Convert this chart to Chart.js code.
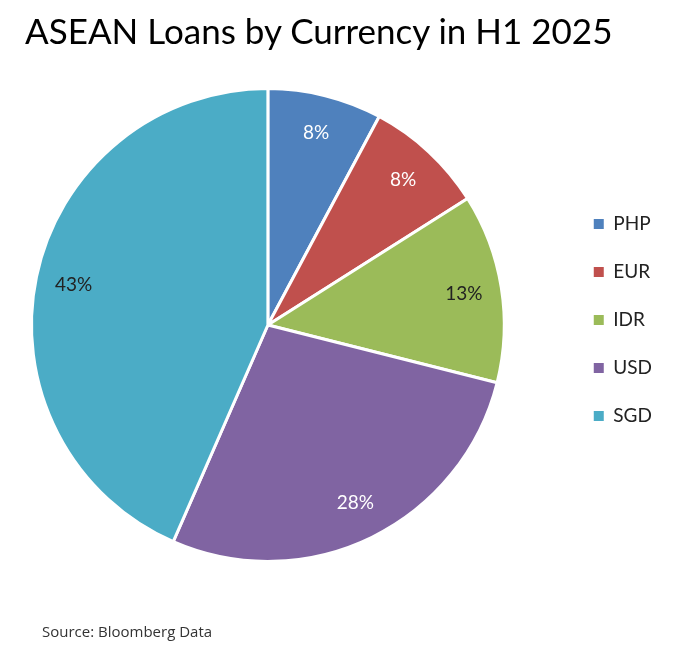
<!DOCTYPE html>
<html>
<head>
<meta charset="utf-8">
<script src="https://cdn.jsdelivr.net/npm/chart.js@4.4.1/dist/chart.umd.min.js"></script>
<style>
html, body { margin: 0; padding: 0; background: #fff; }
#wrap { position: relative; width: 697px; height: 662px; }
#wrap canvas { position: absolute; left: 0; top: 0; }
#title { position: absolute; left: 25px; top: 9px; font: 35px Lato, sans-serif; color: #000; white-space: nowrap; }
#source { position: absolute; left: 42px; top: 621px; font: 15px "Open Sans", sans-serif; color: #333; white-space: nowrap; }
</style>
</head>
<body>
<div id="wrap">
  <canvas id="loan-chart" width="697" height="662"></canvas>
  <div id="title">ASEAN Loans by Currency in H1 2025</div>
  <div id="source">Source: Bloomberg Data</div>
</div>
<script>
var currencies = ['PHP', 'EUR', 'IDR', 'USD', 'SGD'];
var shares = [7.8, 8.2, 12.9, 27.6, 43.4];
var colors = ['#4F81BD', '#C0504D', '#9BBB59', '#8064A2', '#4BACC6'];
var labelColors = ['#ffffff', '#ffffff', '#222222', '#ffffff', '#222222'];

// percent labels inside each slice
var pctLabels = {
    id: 'pctLabels',
    afterDatasetsDraw: function(chart) {
        var ctx = chart.ctx;
        var meta = chart.getDatasetMeta(0);
        ctx.save();
        ctx.font = '19px Lato';
        ctx.textAlign = 'center';
        ctx.textBaseline = 'middle';
        meta.data.forEach(function(arc, i) {
            var p = arc.getProps(['x', 'y', 'startAngle', 'endAngle', 'outerRadius']);
            var mid = (p.startAngle + p.endAngle) / 2;
            var r = p.outerRadius * 0.84;
            ctx.fillStyle = labelColors[i];
            ctx.fillText(Math.round(shares[i]) + '%', p.x + Math.cos(mid) * r, p.y + Math.sin(mid) * r);
        });
        ctx.restore();
    }
};

// push the legend away from the pie
var legendShift = {
    id: 'legendShift',
    afterLayout: function(chart) {
        var lg = chart.legend;
        lg.left += 59;
        lg.right += 59;
        lg.top -= 5;
        lg.bottom -= 5;
    }
};

var baseLabels = Chart.overrides.pie.plugins.legend.labels.generateLabels;

var ctx = document.getElementById('loan-chart').getContext('2d');
var chart = new Chart(ctx, {
    type: 'pie',
    data: {
        labels: currencies,
        datasets: [{
            data: shares,
            backgroundColor: colors,
            borderColor: '#ffffff',
            borderWidth: 3
        }]
    },
    options: {
        responsive: false,
        animation: false,
        layout: { padding: { left: 30, right: 94, top: 87, bottom: 99 } },
        plugins: {
            tooltip: { enabled: false },
            legend: {
                position: 'right',
                labels: {
                    boxWidth: 10,
                    boxHeight: 10,
                    padding: 29,
                    color: '#222',
                    font: { family: 'Lato', size: 19 },
                    generateLabels: function(c) {
                        return baseLabels(c).map(function(item) {
                            item.lineWidth = 0;
                            return item;
                        });
                    }
                }
            }
        }
    },
    plugins: [pctLabels, legendShift]
});
</script>
</body>
</html>
